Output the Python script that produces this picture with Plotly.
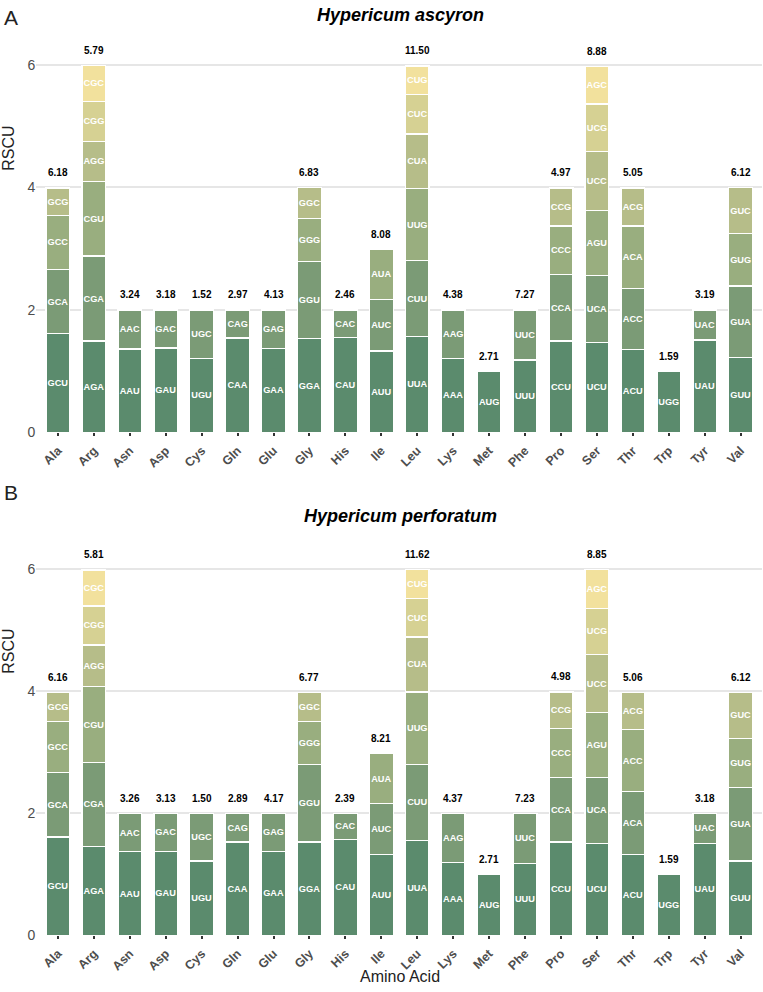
import plotly.graph_objects as go
from plotly.subplots import make_subplots

amino_acids = ["Ala", "Arg", "Asn", "Asp", "Cys", "Gln", "Glu", "Gly", "His", "Ile",
               "Leu", "Lys", "Met", "Phe", "Pro", "Ser", "Thr", "Trp", "Tyr", "Val"]

# codons per amino acid, ordered bottom -> top (descending RSCU) for each species
codons_A = {
    "Ala": ["GCU", "GCA", "GCC", "GCG"], "Arg": ["AGA", "CGA", "CGU", "AGG", "CGG", "CGC"],
    "Asn": ["AAU", "AAC"], "Asp": ["GAU", "GAC"], "Cys": ["UGU", "UGC"], "Gln": ["CAA", "CAG"],
    "Glu": ["GAA", "GAG"], "Gly": ["GGA", "GGU", "GGG", "GGC"], "His": ["CAU", "CAC"],
    "Ile": ["AUU", "AUC", "AUA"], "Leu": ["UUA", "CUU", "UUG", "CUA", "CUC", "CUG"],
    "Lys": ["AAA", "AAG"], "Met": ["AUG"], "Phe": ["UUU", "UUC"],
    "Pro": ["CCU", "CCA", "CCC", "CCG"], "Ser": ["UCU", "UCA", "AGU", "UCC", "UCG", "AGC"],
    "Thr": ["ACU", "ACC", "ACA", "ACG"], "Trp": ["UGG"], "Tyr": ["UAU", "UAC"],
    "Val": ["GUU", "GUA", "GUG", "GUC"],
}
rscu_A = {
    "Ala": [1.61, 1.05, 0.88, 0.45], "Arg": [1.49, 1.39, 1.21, 0.66, 0.65, 0.59],
    "Asn": [1.36, 0.64], "Asp": [1.38, 0.62], "Cys": [1.21, 0.79], "Gln": [1.54, 0.46],
    "Glu": [1.37, 0.63], "Gly": [1.53, 1.26, 0.70, 0.51], "His": [1.55, 0.45],
    "Ile": [1.33, 0.84, 0.82], "Leu": [1.57, 1.23, 1.18, 0.89, 0.64, 0.47],
    "Lys": [1.21, 0.79], "Met": [1.00], "Phe": [1.18, 0.82],
    "Pro": [1.49, 1.09, 0.79, 0.62], "Ser": [1.47, 1.09, 1.06, 0.96, 0.78, 0.61],
    "Thr": [1.35, 1.00, 1.02, 0.62], "Trp": [1.00], "Tyr": [1.51, 0.49],
    "Val": [1.22, 1.17, 0.85, 0.76],
}
pct_A = ["6.18", "5.79", "3.24", "3.18", "1.52", "2.97", "4.13", "6.83", "2.46", "8.08",
         "11.50", "4.38", "2.71", "7.27", "4.97", "8.88", "5.05", "1.59", "3.19", "6.12"]

codons_B = dict(codons_A)
codons_B["Thr"] = ["ACU", "ACA", "ACC", "ACG"]
rscu_B = {
    "Ala": [1.61, 1.06, 0.84, 0.47], "Arg": [1.46, 1.37, 1.25, 0.68, 0.64, 0.59],
    "Asn": [1.37, 0.63], "Asp": [1.38, 0.62], "Cys": [1.22, 0.78], "Gln": [1.53, 0.47],
    "Glu": [1.38, 0.62], "Gly": [1.53, 1.27, 0.70, 0.48], "His": [1.57, 0.43],
    "Ile": [1.33, 0.83, 0.82], "Leu": [1.56, 1.24, 1.19, 0.90, 0.63, 0.48],
    "Lys": [1.20, 0.80], "Met": [1.00], "Phe": [1.18, 0.82],
    "Pro": [1.53, 1.06, 0.80, 0.60], "Ser": [1.51, 1.08, 1.06, 0.95, 0.76, 0.64],
    "Thr": [1.33, 1.03, 1.01, 0.61], "Trp": [1.00], "Tyr": [1.51, 0.49],
    "Val": [1.22, 1.20, 0.81, 0.75],
}
pct_B = ["6.16", "5.81", "3.26", "3.13", "1.50", "2.89", "4.17", "6.77", "2.39", "8.21",
         "11.62", "4.37", "2.71", "7.23", "4.98", "8.85", "5.06", "1.59", "3.18", "6.12"]

titles = ["Hypericum ascyron", "Hypericum perforatum"]
rank_colors = ["#5b8b6d", "#7b9b76", "#99ae7f", "#b6bd89", "#d6d193", "#f2e19d"]

FONT = "Liberation Sans, Arial"
fig = make_subplots(rows=2, cols=1)

panels = [(codons_A, rscu_A, pct_A), (codons_B, rscu_B, pct_B)]
for row, (cod, val, pct) in enumerate(panels, start=1):
    for rank in range(6):
        xs, ys, ts = [], [], []
        for aa in amino_acids:
            if rank < len(val[aa]):
                xs.append(aa)
                ys.append(val[aa][rank])
                ts.append("<b>%s</b>" % cod[aa][rank])
        fig.add_trace(go.Bar(
            x=xs, y=ys, text=ts, textposition="inside", insidetextanchor="middle",
            textangle=0, constraintext="none",
            textfont=dict(color="white", size=9.2, family=FONT),
            marker=dict(color=rank_colors[rank], line=dict(color="white", width=1.3)),
            width=0.66, showlegend=False, hoverinfo="x+y+text"), row=row, col=1)
    for i, aa in enumerate(amino_acids):
        fig.add_annotation(x=aa, y=sum(val[aa]), text="<b>%s</b>" % pct[i], showarrow=False,
                           yshift=15, font=dict(size=10, color="black", family=FONT),
                           xref="x%s" % ("" if row == 1 else "2"), yref="y%s" % ("" if row == 1 else "2"))

fig.update_layout(barmode="stack", uniformtext=dict(minsize=9, mode="show"))

xdom = [0.0477, 0.999]
for r, ydom in [(1, [0.5605, 0.9717]), (2, [0.0494, 0.4587])]:
    fig.update_xaxes(row=r, col=1, domain=xdom, range=[-0.6, 19.6],
                     categoryorder="array", categoryarray=amino_acids,
                     tickangle=-45, ticks="outside", ticklen=3, tickwidth=1.5, tickcolor="#333333",
                     ticklabelstandoff=2,
                     tickfont=dict(size=12.5, color="#4d4d4d", family=FONT, weight="bold"),
                     showgrid=False, showline=False, zeroline=False)
    fig.update_yaxes(row=r, col=1, domain=ydom, range=[0, 6.6], tickvals=[0, 2, 4, 6],
                     tickfont=dict(size=14, color="#4d4d4d", family=FONT),
                     showgrid=True, gridcolor="#e6e6e6", gridwidth=1.5, zeroline=False,
                     ticks="", showline=False)

fig.update_layout(
    width=763, height=992, margin=dict(l=0, r=0, t=0, b=0),
    plot_bgcolor="white", paper_bgcolor="white",
    font=dict(family=FONT),
)

# panel letters, titles, axis titles
for letter, ypix in [("A", 18), ("B", 497)]:
    fig.add_annotation(text=letter, x=2 / 763, y=1 - ypix / 992, xref="paper", yref="paper",
                       xanchor="left", yanchor="middle", showarrow=False,
                       font=dict(size=21, color="#222222", family=FONT))
for title, ypix in [(titles[0], 15), (titles[1], 520)]:
    fig.add_annotation(text="<b><i>%s</i></b>" % title, x=400 / 763, y=1 - ypix / 992,
                       xref="paper", yref="paper", xanchor="center", yanchor="middle",
                       showarrow=False, font=dict(size=18, color="black", family=FONT))
for ypix in [150, 657]:
    fig.add_annotation(text="RSCU", x=9 / 763, y=1 - ypix / 992, xref="paper", yref="paper",
                       textangle=-90, xanchor="center", yanchor="middle", showarrow=False,
                       font=dict(size=16, color="#222222", family=FONT))
fig.add_annotation(text="Amino Acid", x=400 / 763, y=1 - 984 / 992, xref="paper", yref="paper",
                   xanchor="center", yanchor="middle", showarrow=False,
                   font=dict(size=16, color="#222222", family=FONT))

fig.write_html("out.html")
